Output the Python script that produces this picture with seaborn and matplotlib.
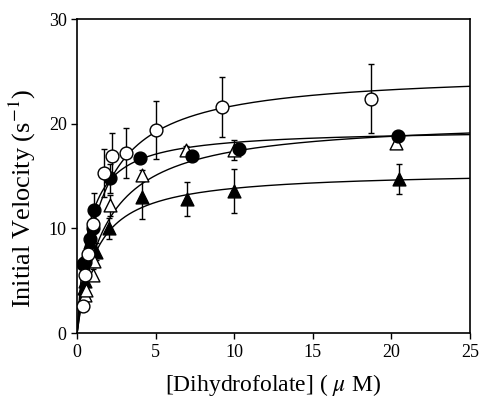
import numpy as np
import pandas as pd
import matplotlib
matplotlib.use("Agg")
import matplotlib.pyplot as plt
import seaborn as sns

# ------------------------------
# Data
# ------------------------------
open_circle_x = [0.35, 0.5, 0.7, 1.0, 1.7, 2.2, 3.1, 5.0, 9.2, 18.7]
open_circle_y = [2.6, 5.6, 7.6, 10.4, 15.3, 16.9, 17.2, 19.4, 21.6, 22.4]
open_circle_err = [0.3, 0.4, 0.5, 0.8, 2.3, 2.2, 2.4, 2.8, 2.9, 3.3]

filled_circle_x = [0.4, 0.5, 0.8, 1.0, 1.1, 2.1, 4.0, 7.3, 10.3, 20.4]
filled_circle_y = [6.6, 6.8, 9.0, 10.0, 11.8, 14.8, 16.7, 16.9, 17.6, 18.8]
filled_circle_err = [0.4, 0.5, 0.8, 1.0, 1.6, 1.4, 0.4, 0.4, 0.6, 0.4]

open_tri_x = [0.5, 0.55, 1.0, 1.1, 2.1, 4.1, 6.9, 10.0, 20.3]
open_tri_y = [3.6, 4.1, 5.6, 6.9, 12.2, 15.1, 17.5, 17.5, 18.2]
open_tri_err = [0.3, 0.3, 0.5, 0.6, 1.0, 0.5, 0.4, 1.0, 0.4]

filled_tri_x = [0.45, 0.5, 0.8, 1.2, 2.0, 4.1, 7.0, 10.0, 20.5]
filled_tri_y = [4.3, 5.0, 8.7, 7.8, 10.0, 13.0, 12.8, 13.6, 14.7]
filled_tri_err = [0.4, 0.4, 0.8, 0.8, 1.0, 2.1, 1.6, 2.1, 1.45]

# Michaelis-Menten fit parameters (Vmax, Km) for each curve
fit_vmax = [25.0, 19.5, 20.5, 15.5]
fit_km = [1.5, 0.7, 1.8, 1.2]

# ------------------------------
# Figure
# ------------------------------
sns.set_style("ticks")
plt.rcParams['font.family'] = ['Liberation Serif', 'DejaVu Serif']
plt.rcParams['mathtext.fontset'] = 'stix'
plt.rcParams['text.color'] = 'black'
plt.rcParams['axes.labelcolor'] = 'black'

fig = plt.figure(figsize=(4.82, 3.99), dpi=100)
ax = fig.add_axes([0.16, 0.165, 0.815, 0.787])

conc = np.linspace(0, 25, 400)
for vmax, km in zip(fit_vmax, fit_km):
    curve = pd.DataFrame({"x": conc, "y": vmax * conc / (km + conc)})
    sns.lineplot(data=curve, x="x", y="y", ax=ax, color="black", lw=1.0, zorder=2)

series = [
    (filled_tri_x, filled_tri_y, filled_tri_err, "^", "black"),
    (open_tri_x, open_tri_y, open_tri_err, "^", "white"),
    (filled_circle_x, filled_circle_y, filled_circle_err, "o", "black"),
    (open_circle_x, open_circle_y, open_circle_err, "o", "white"),
]
for i, (xs, ys, es, mk, fc) in enumerate(series):
    ax.errorbar(xs, ys, yerr=es, fmt="none", ecolor="black", elinewidth=1.0,
                capsize=2.5, capthick=1.0, zorder=3 + i)
    df = pd.DataFrame({"x": xs, "y": ys})
    sns.scatterplot(data=df, x="x", y="y", ax=ax, marker=mk, s=85,
                    facecolor=fc, edgecolor="black", linewidth=1.0, zorder=3.5 + i)

ax.set_xlim(0, 25)
ax.set_ylim(0, 30)
ax.set_xticks([0, 5, 10, 15, 20, 25])
ax.set_yticks([0, 10, 20, 30])
ax.tick_params(direction="out", length=4, width=1, labelsize=13,
               colors="black", labelcolor="black")
for s in ax.spines.values():
    s.set_visible(True)
    s.set_linewidth(1.2)
    s.set_color("black")

ax.set_xlabel(r"[Dihydrofolate] ( $\mu$ M)", fontsize=17, labelpad=8)
ax.set_ylabel(r"Initial Velocity (s$^{-1}$)", fontsize=19)
ax.yaxis.set_label_coords(-0.10, 0.43)

fig.savefig("out.png", dpi=100)
